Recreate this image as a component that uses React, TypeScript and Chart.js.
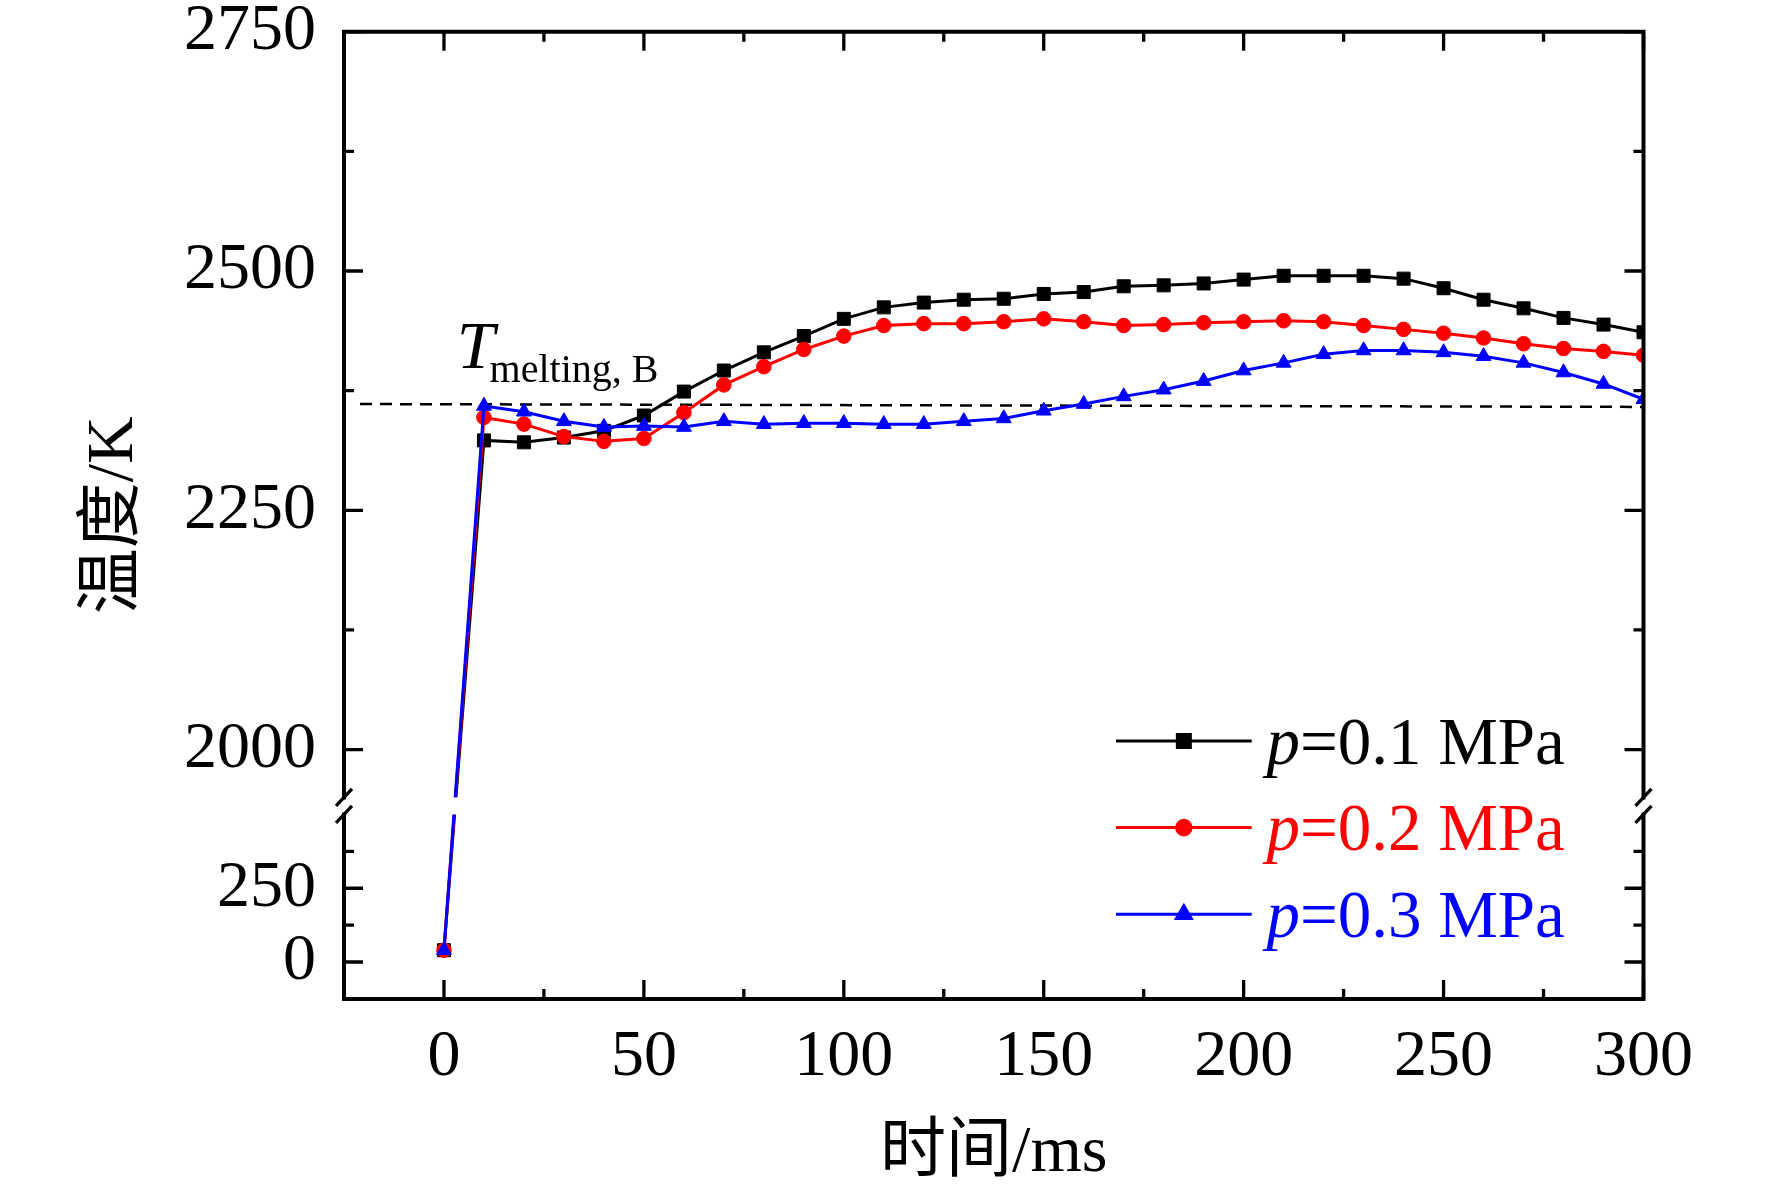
import React, { useEffect, useRef } from 'react'
import { Chart, LinearScale, registerables } from 'chart.js'
import { drawPoint } from 'chart.js/helpers'

// time axis (ms) shared by all three runs
const timeMs = [0, 10, 20, 30, 40, 50, 60, 70, 80, 90, 100, 110, 120, 130, 140, 150, 160, 170, 180, 190, 200, 210, 220, 230, 240, 250, 260, 270, 280, 290, 300]

// temperature (K)
const tempP01 = [40, 2323, 2321, 2326, 2333, 2349, 2374, 2396, 2415, 2432, 2450, 2462, 2467, 2470, 2471, 2476, 2478, 2484, 2485, 2487, 2491, 2495, 2495, 2495, 2492, 2482, 2470, 2461, 2451, 2444, 2436]
const tempP02 = [40, 2347, 2340, 2327, 2322, 2325, 2352, 2381, 2400, 2418, 2432, 2443, 2445, 2445, 2447, 2450, 2447, 2443, 2444, 2446, 2447, 2448, 2447, 2443, 2439, 2435, 2430, 2424, 2419, 2416, 2412]
const tempP03 = [40, 2359, 2353, 2343, 2337, 2338, 2337, 2343, 2340, 2341, 2341, 2340, 2340, 2343, 2346, 2354, 2361, 2369, 2376, 2385, 2396, 2404, 2413, 2417, 2417, 2415, 2411, 2404, 2394, 2382, 2366]

const seriesLabels = ['p=0.1 MPa', 'p=0.2 MPa', 'p=0.3 MPa']

// melting point reference line of B
const meltingTime = [-21, 300]
const meltingTemp = [2361, 2358]

const xMajorTicks = [0, 50, 100, 150, 200, 250, 300]
const xMinorTicks = [25, 75, 125, 175, 225, 275]
const yMajorTicks = [0, 250, 2000, 2250, 2500, 2750]
const yMinorTicks = [125, 375, 2125, 2375, 2625]

// broken y axis: two value ranges stacked with a small gap between them
const lowerRange = [-125, 500]
const upperRange = [1950, 2750]
const BREAK = { lowerShare: 0.1907, gapShare: 0.0176 }

const SERIF = "'Liberation Serif', 'Times New Roman', serif"
const CJK = "'Liberation Serif', 'Noto Sans CJK SC', sans-serif"

class BrokenLinearScale extends LinearScale {
    static id = 'brokenLinear'
    static defaults = {}

    segments() {
        const h = this.bottom - this.top
        const lowerH = h * BREAK.lowerShare
        const gapH = h * BREAK.gapShare
        return { lowerH, gapH, upperH: h - lowerH - gapH }
    }

    getPixelForValue(value: number) {
        if (value === null || value === undefined || isNaN(value)) return NaN
        const { lowerH, gapH, upperH } = this.segments()
        const [l0, l1] = lowerRange
        const [u0, u1] = upperRange
        if (value <= l1) return this.bottom - ((value - l0) / (l1 - l0)) * lowerH
        if (value >= u0) return this.top + ((u1 - value) / (u1 - u0)) * upperH
        return this.bottom - lowerH - ((value - l1) / (u0 - l1)) * gapH
    }

    getValueForPixel(pixel: number) {
        const { lowerH, gapH, upperH } = this.segments()
        const [l0, l1] = lowerRange
        const [u0, u1] = upperRange
        const fromBottom = this.bottom - pixel
        if (fromBottom <= lowerH) return l0 + (fromBottom / lowerH) * (l1 - l0)
        if (fromBottom <= lowerH + gapH) return l1 + ((fromBottom - lowerH) / gapH) * (u0 - l1)
        return u1 - ((pixel - this.top) / upperH) * (u1 - u0)
    }
}

Chart.register(...registerables)
Chart.register(BrokenLinearScale)

const frameAndLegend = {
    id: 'frameAndLegend',
    afterDatasetsDraw(chart: any) {
        const { ctx, chartArea: a } = chart
        const x = chart.scales.x
        const y = chart.scales.y
        const gapTop = y.getPixelForValue(upperRange[0])
        const gapBottom = y.getPixelForValue(lowerRange[1])

        ctx.save()
        // cut the curves where the axis is broken
        ctx.fillStyle = '#ffffff'
        ctx.fillRect(a.left + 2, gapTop, a.right - a.left - 4, gapBottom - gapTop)

        // frame
        ctx.strokeStyle = '#000000'
        ctx.lineWidth = 4
        ctx.lineCap = 'square'
        ctx.beginPath()
        ctx.moveTo(a.left, a.top)
        ctx.lineTo(a.right, a.top)
        ctx.moveTo(a.left, a.bottom)
        ctx.lineTo(a.right, a.bottom)
        for (const sx of [a.left, a.right]) {
            ctx.moveTo(sx, a.top)
            ctx.lineTo(sx, gapTop)
            ctx.moveTo(sx, gapBottom)
            ctx.lineTo(sx, a.bottom)
        }
        ctx.stroke()

        // inward ticks on all four sides
        ctx.lineWidth = 3.3
        ctx.lineCap = 'butt'
        ctx.beginPath()
        const xTicks = (vals: number[], len: number) => vals.forEach(v => {
            const px = x.getPixelForValue(v)
            ctx.moveTo(px, a.bottom)
            ctx.lineTo(px, a.bottom - len)
            ctx.moveTo(px, a.top)
            ctx.lineTo(px, a.top + len)
        })
        const yTicks = (vals: number[], len: number) => vals.forEach(v => {
            const py = y.getPixelForValue(v)
            ctx.moveTo(a.left, py)
            ctx.lineTo(a.left + len, py)
            ctx.moveTo(a.right, py)
            ctx.lineTo(a.right - len, py)
        })
        xTicks(xMajorTicks, 19)
        xTicks(xMinorTicks, 10)
        yTicks(yMajorTicks, 19)
        yTicks(yMinorTicks, 10)
        ctx.stroke()

        // break marks
        ctx.beginPath()
        for (const sx of [a.left, a.right]) {
            for (const sy of [gapTop, gapBottom]) {
                ctx.moveTo(sx - 8, sy + 8.5)
                ctx.lineTo(sx + 8, sy - 8.5)
            }
        }
        ctx.stroke()

        // T melting, B label above the dashed line
        const lx = x.getPixelForValue(3.2)
        const ly = y.getPixelForValue(2399)
        ctx.fillStyle = '#000000'
        ctx.textBaseline = 'alphabetic'
        ctx.textAlign = 'left'
        ctx.font = `italic 68px ${SERIF}`
        ctx.fillText('T', lx, ly)
        const tw = ctx.measureText('T').width
        ctx.font = `40px ${SERIF}`
        ctx.fillText('melting, B', lx + tw - 5, ly + 14)
        ctx.restore()
    },
    afterDraw(chart: any) {
        const { ctx, chartArea: a } = chart
        const items = chart.data.datasets.filter((d: any) => seriesLabels.includes(d.label))
        ctx.save()
        items.forEach((ds: any, i: number) => {
            const rowY = a.bottom - 258 + i * 86.7
            const x0 = a.right - 527.5
            const x1 = a.right - 391.8
            ctx.strokeStyle = ds.borderColor
            ctx.fillStyle = ds.borderColor
            ctx.lineWidth = ds.borderWidth
            ctx.beginPath()
            ctx.moveTo(x0, rowY)
            ctx.lineTo(x1, rowY)
            ctx.stroke()
            drawPoint(ctx, { pointStyle: ds.pointStyle, radius: ds.pointRadius, rotation: 0, borderWidth: 1 }, (x0 + x1) / 2, rowY)

            const tx = a.right - 377
            const by = rowY + 22.6
            ctx.textBaseline = 'alphabetic'
            ctx.textAlign = 'left'
            ctx.font = `italic 67px ${SERIF}`
            ctx.fillText(ds.label.slice(0, 1), tx, by)
            const pw = ctx.measureText(ds.label.slice(0, 1)).width
            ctx.font = `67px ${SERIF}`
            ctx.fillText(ds.label.slice(1), tx + pw, by)
        })
        ctx.restore()
    }
}

const toPoints = (xs: number[], ys: number[]) => xs.map((t, i) => ({ x: t, y: ys[i] }))

const App: React.FC = () => {
    const canvasRef = useRef<HTMLCanvasElement>(null)
    const chartInstance = useRef<Chart | null>(null)

    useEffect(() => {
        if (!canvasRef.current) return
        const ctx = canvasRef.current.getContext('2d')
        if (!ctx) return
        if (chartInstance.current) chartInstance.current.destroy()

        const tickFont = { family: SERIF, size: 66, lineHeight: 1.2 }

        chartInstance.current = new Chart(ctx, {
            type: 'line',
            data: {
                datasets: [
                    {
                        label: seriesLabels[0],
                        data: toPoints(timeMs, tempP01),
                        borderColor: '#000000',
                        backgroundColor: '#000000',
                        borderWidth: 3,
                        pointStyle: 'rect',
                        pointRadius: 9.2,
                        pointBorderWidth: 1,
                        order: 3
                    },
                    {
                        label: seriesLabels[1],
                        data: toPoints(timeMs, tempP02),
                        borderColor: '#ff0000',
                        backgroundColor: '#ff0000',
                        borderWidth: 3,
                        pointStyle: 'circle',
                        pointRadius: 7.3,
                        pointBorderWidth: 1,
                        order: 2
                    },
                    {
                        label: seriesLabels[2],
                        data: toPoints(timeMs, tempP03),
                        borderColor: '#0000ff',
                        backgroundColor: '#0000ff',
                        borderWidth: 3,
                        pointStyle: 'triangle',
                        pointRadius: 8.6,
                        pointBorderWidth: 1,
                        order: 1
                    },
                    {
                        label: 'melting',
                        data: toPoints(meltingTime, meltingTemp),
                        borderColor: '#000000',
                        borderWidth: 2.5,
                        borderDash: [12, 8],
                        pointRadius: 0,
                        order: 4
                    }
                ]
            },
            options: {
                animation: false,
                responsive: true,
                maintainAspectRatio: false,
                events: [],
                layout: { padding: { left: 0, right: 128.5, top: 31.7, bottom: 0 } },
                plugins: {
                    legend: { display: false },
                    tooltip: { enabled: false }
                },
                scales: {
                    x: {
                        type: 'linear',
                        min: -25,
                        max: 300,
                        grid: { display: false },
                        border: { display: false },
                        afterBuildTicks: (s: any) => { s.ticks = xMajorTicks.map(v => ({ value: v })) },
                        afterFit: (s: any) => {
                            s.height = 197.1
                            s.paddingLeft = 0
                            s.paddingRight = 0
                        },
                        ticks: {
                            autoSkip: false,
                            maxRotation: 0,
                            padding: 11,
                            color: '#000000',
                            font: tickFont,
                            callback: (v: any) => String(v)
                        },
                        title: {
                            display: true,
                            text: '时间/ms',
                            color: '#000000',
                            font: { family: CJK, size: 66, lineHeight: 1.2 },
                            padding: { top: 0, bottom: 3 }
                        }
                    },
                    y: {
                        type: 'brokenLinear' as any,
                        min: -125,
                        max: 2750,
                        grid: { display: false },
                        border: { display: false },
                        afterBuildTicks: (s: any) => { s.ticks = yMajorTicks.map(v => ({ value: v })) },
                        afterFit: (s: any) => {
                            s.width = 344
                            s.paddingTop = 0
                            s.paddingBottom = 0
                        },
                        ticks: {
                            autoSkip: false,
                            padding: 20,
                            color: '#000000',
                            font: tickFont,
                            callback: (v: any) => String(v)
                        },
                        title: {
                            display: true,
                            text: '温度/K',
                            color: '#000000',
                            font: { family: CJK, size: 66, lineHeight: 1.2 },
                            padding: { top: 75, bottom: 0 }
                        }
                    }
                }
            },
            plugins: [frameAndLegend]
        } as any)

        return () => {
            if (chartInstance.current) {
                chartInstance.current.destroy()
                chartInstance.current = null
            }
        }
    }, [])

    return (
        <div style={{ position: 'absolute', left: 0, top: 0, width: 1772, height: 1196, background: '#ffffff' }}>
            <canvas ref={canvasRef}></canvas>
        </div>
    )
}

export default App
